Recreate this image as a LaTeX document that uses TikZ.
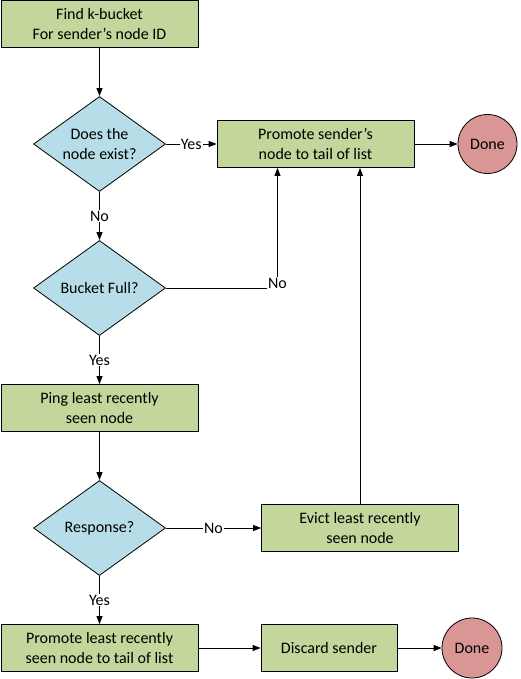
\documentclass[tikz,border=0pt]{standalone}
\usepackage{fontspec}
\setmainfont{Carlito}
\usetikzlibrary{shapes.geometric,arrows.meta}
\definecolor{boxgreen}{RGB}{195,214,155}
\definecolor{askblue}{RGB}{183,222,232}
\definecolor{donered}{RGB}{217,150,148}

\begin{document}
\begin{tikzpicture}[x=1pt,y=-1pt,font=\fontsize{16pt}{20pt}\selectfont,line width=0.8pt,
    block/.style={draw,fill=boxgreen,align=center,inner sep=0pt,minimum width=197pt,minimum height=47pt},
    decide/.style={draw,fill=askblue,diamond,aspect=1.4,align=center,inner sep=0pt,minimum width=132pt,minimum height=95pt},
    finish/.style={draw,fill=donered,circle,inner sep=0pt,minimum size=59pt},
    tag/.style={fill=white,inner sep=1pt},
    >={Triangle[length=8pt,width=6pt]}]
        \useasboundingbox (0,0) rectangle (520,679);
        \node[block] (find) at (99.5, 24) {Find k-bucket\\For sender’s node ID};
        \node[decide] (exists) at (99.5, 144) {Does the\\node exist?};
        \node[block] (promote) at (315.5, 144) {Promote sender’s\\node to tail of list};
        \node[finish] (done1) at (487.5, 144) {Done};
        \node[decide] (full) at (99.5, 288) {Bucket Full?};
        \node[block] (ping) at (99.5, 408) {Ping least recently\\seen node};
        \node[decide] (response) at (99.5, 528) {Response?};
        \node[block] (evict) at (360, 528) {Evict least recently\\seen node};
        \node[block] (lru) at (99.5, 648) {Promote least recently\\seen node to tail of list};
        \node[block,minimum width=136pt] (discard) at (329, 648) {Discard sender};
        \node[finish,minimum size=60pt] (done2) at (472, 648) {Done};

        \draw[->] (find) -- (exists);
        \draw[->] (exists) -- node[tag] {Yes} (promote);
        \draw[->] (promote) -- (done1);
        \draw[->] (exists) -- node[tag] {No} (full);
        \draw[->] (full.east) -| node[tag,pos=0.5,yshift=5pt] {No} ([xshift=-38pt]promote.south);
        \draw[->] (full) -- node[tag] {Yes} (ping);
        \draw[->] (ping) -- (response);
        \draw[->] (response) -- node[tag] {No} (evict);
        \draw[->] (evict.north) -- (evict.north |- promote.south);
        \draw[->] (response) -- node[tag] {Yes} (lru);
        \draw[->] (lru) -- (discard);
        \draw[->] (discard) -- (done2);
      \end{tikzpicture}
\end{document}
